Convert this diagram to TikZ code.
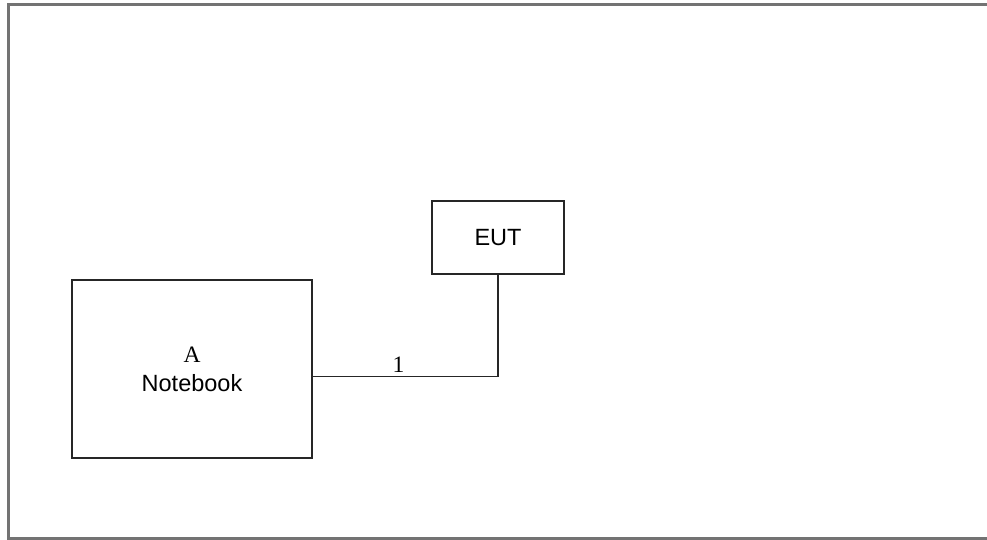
\documentclass[tikz,border=0pt]{standalone}
\usepackage{fontspec}
\setmainfont{Liberation Sans}
\newfontfamily\serifnum{Liberation Serif}
\usepackage{tikz}
\usetikzlibrary{positioning, calc}

\begin{document}
\begin{tikzpicture}[
    x=1pt, y=1pt,
    box/.style={draw=black!85, line width=1.4pt, font=\fontsize{23.5}{29}\selectfont, align=center, inner sep=0pt},
    frame/.style={draw=black!55, line width=2.2pt},
    conn/.style={draw=black!85, line width=1.4pt},
    lbl/.style={font=\serifnum\fontsize{23.5}{27}\selectfont, inner sep=1pt}
]
    \useasboundingbox (0,0) rectangle (987,-540);

    % outer frame (open on the right)
    \draw[frame] (987,-4.5) -- (8.5,-4.5) -- (8.5,-538.5) -- (987,-538.5);

    \node[box, minimum width=240pt, minimum height=178pt] (nb) at (192,-369) {{\serifnum A}\\Notebook};
    \node[box, minimum width=132pt, minimum height=73pt] (eut) at (498,-237.5) {EUT};

    \coordinate (bend) at (eut.south |- 0,-376.5);
    \draw[conn] (nb.east |- bend) -- (bend) -- (eut.south);
    \node[lbl, anchor=south] (c1) at (398.5,-374) {1};
\end{tikzpicture}
\end{document}
